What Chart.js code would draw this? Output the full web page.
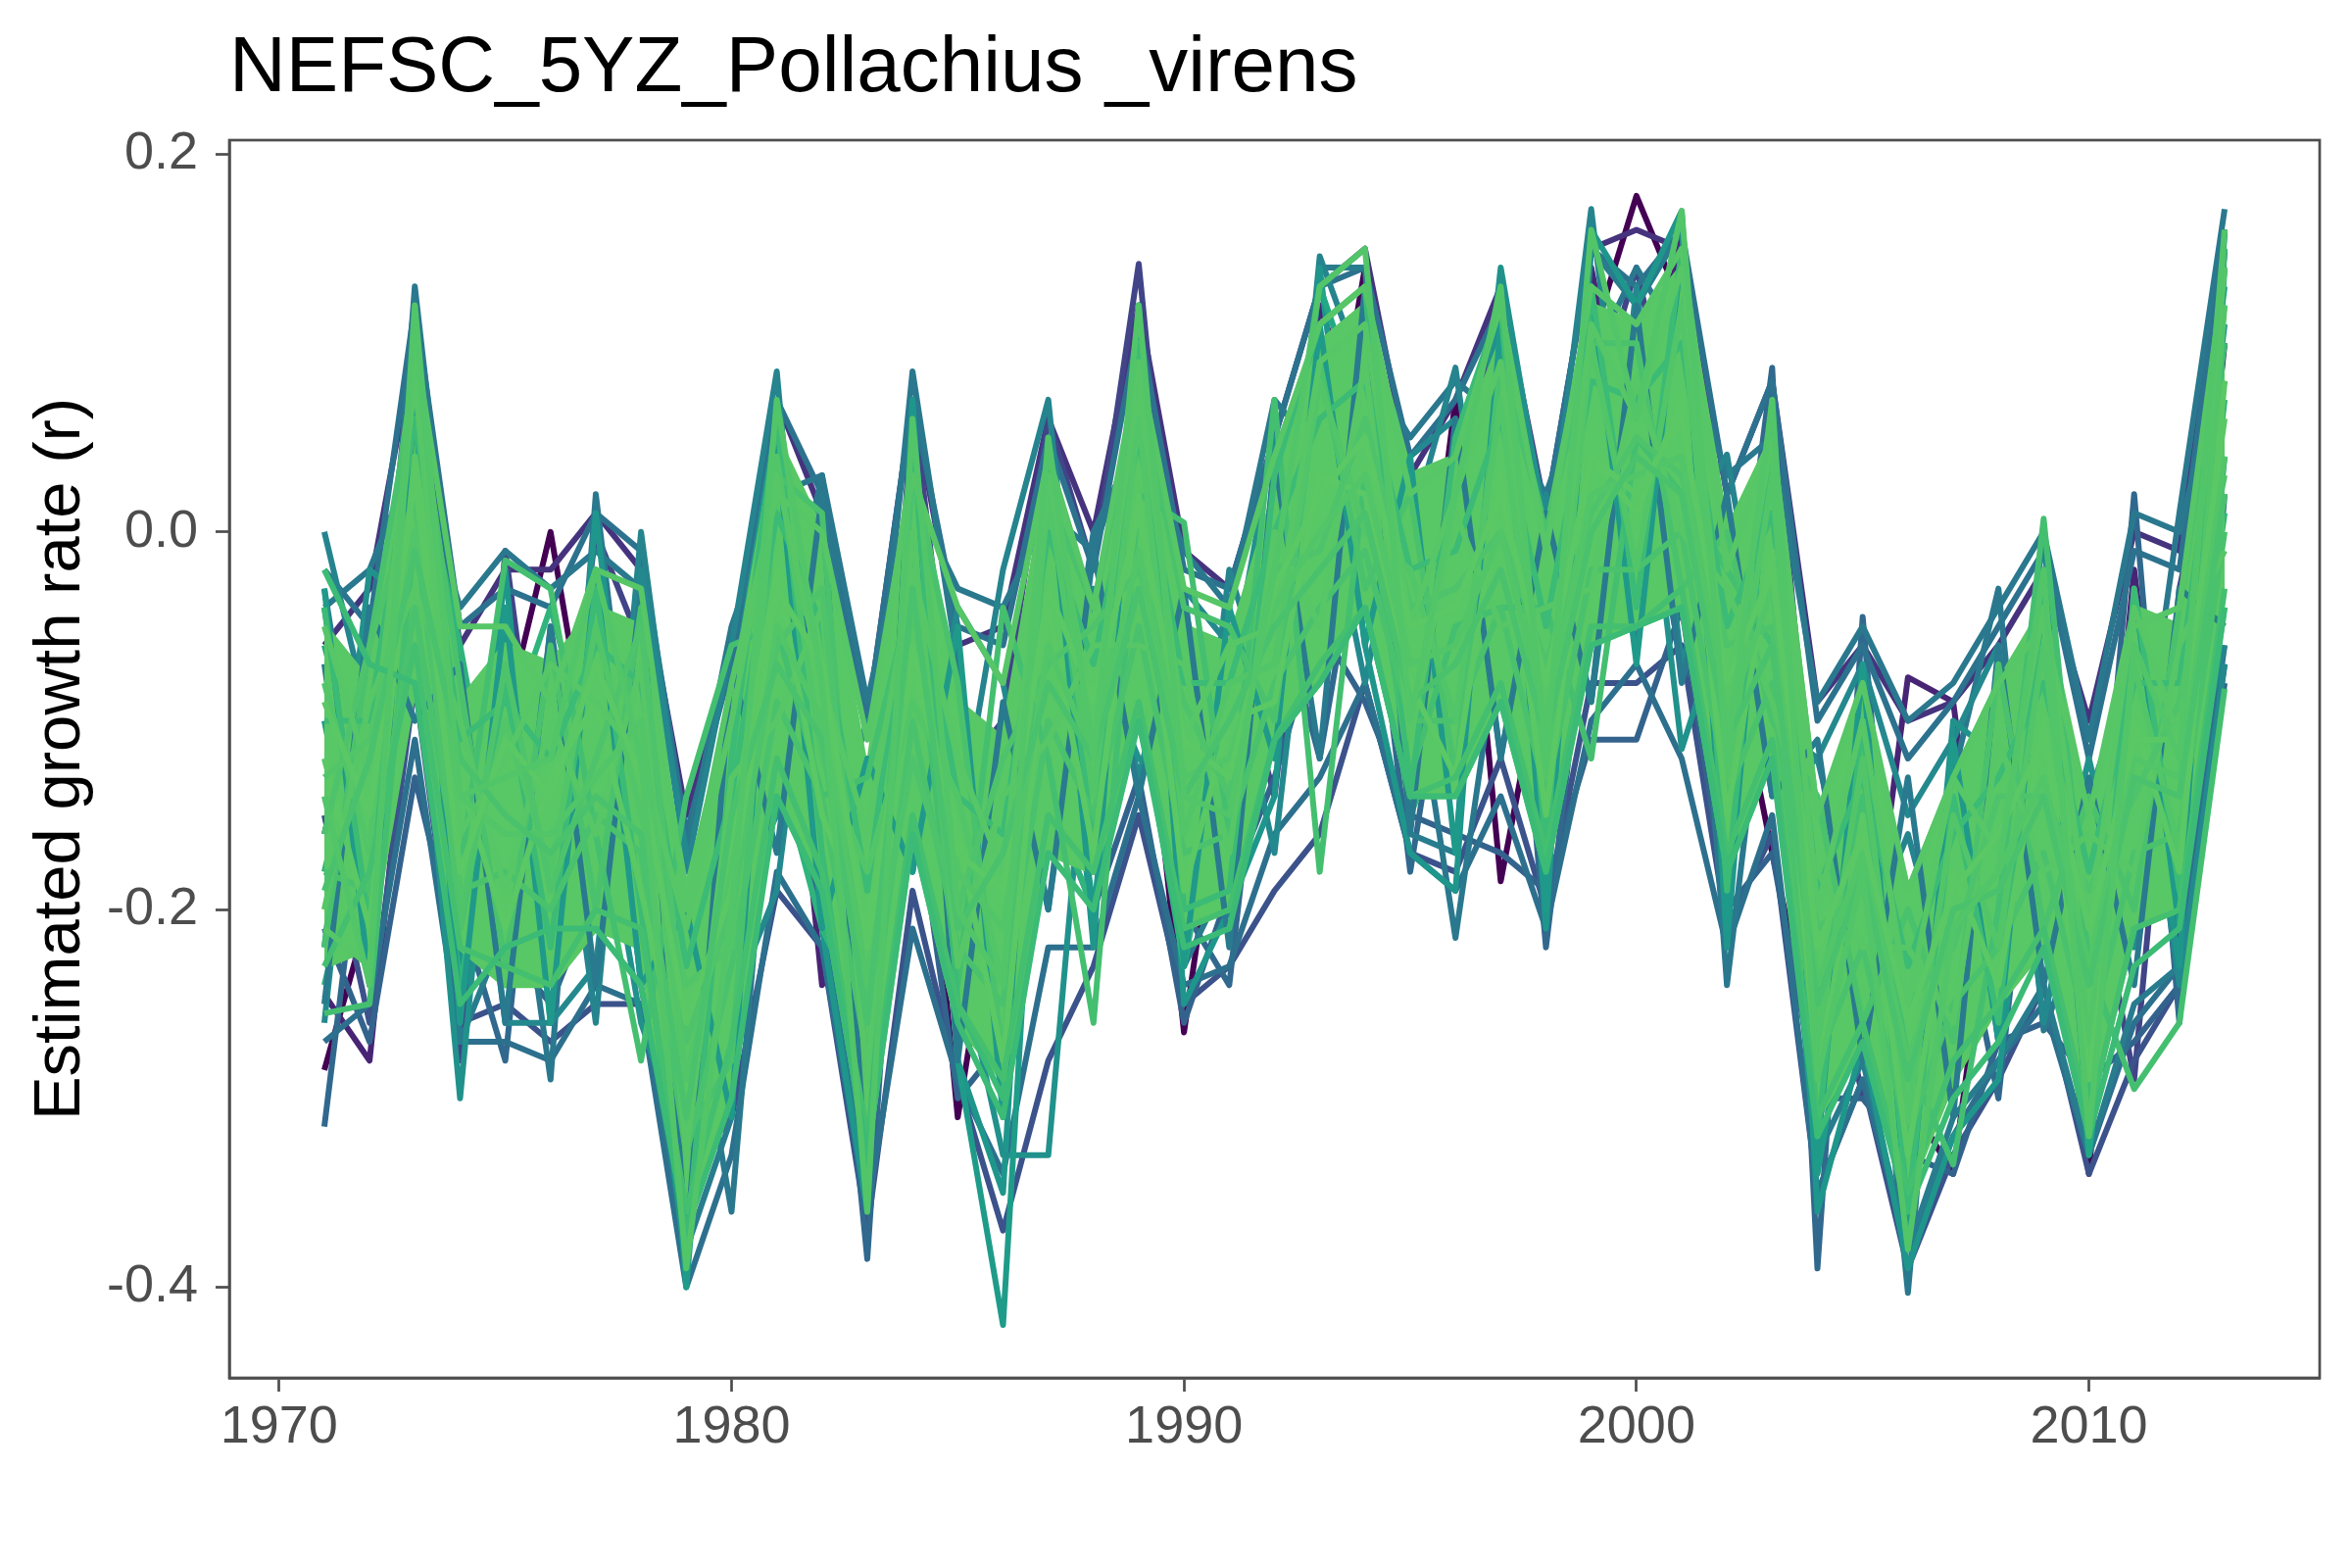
<!DOCTYPE html>
<html>
<head>
<meta charset="utf-8">
<script src="https://cdn.jsdelivr.net/npm/chart.js@4.4.1/dist/chart.umd.min.js"></script>
<style>
  html, body { margin: 0; padding: 0; background: #ffffff; }
  canvas { display: block; }
</style>
</head>
<body>
<canvas id="growthChart" width="2400" height="1600"></canvas>
<script>
// years of the model runs
const years = [1971, 1972, 1973, 1974, 1975, 1976, 1977, 1978, 1979,
  1980, 1981, 1982, 1983, 1984, 1985, 1986, 1987, 1988, 1989,
  1990, 1991, 1992, 1993, 1994, 1995, 1996, 1997, 1998, 1999,
  2000, 2001, 2002, 2003, 2004, 2005, 2006, 2007, 2008, 2009,
  2010, 2011, 2012, 2013];

const xTicks = [1970, 1980, 1990, 2000, 2010];
const yTicks = [-0.4, -0.2, 0.0, 0.2];

// individual runs (1971 ... 2013)
const run01 = [-0.285, -0.20, -0.02, -0.17, -0.10, 0.00, -0.14, -0.10, -0.25,
  -0.26, -0.06, -0.12, -0.34, -0.06, -0.31, -0.16, -0.08, -0.12, -0.04,
  -0.265, -0.10, -0.02, 0.00, 0.14, -0.12, 0.07, -0.185, -0.06, 0.10,
  0.178, 0.12, -0.05, -0.17, -0.28, -0.10, -0.30, -0.34, -0.16, -0.15,
  -0.34, -0.05, -0.13, 0.10];
const run02 = [-0.245, -0.28, -0.05, -0.13, -0.20, -0.12, -0.05, -0.22, -0.32,
  -0.14, 0.00, -0.24, -0.20, 0.02, -0.20, -0.27, -0.02, -0.14, 0.04,
  -0.16, -0.20, -0.06, 0.12, 0.05, -0.02, -0.12, 0.08, -0.12, 0.14,
  0.02, 0.16, -0.13, 0.07, -0.30, -0.26, -0.077, -0.09, -0.27, -0.06,
  -0.27, -0.02, -0.22, 0.15];
const run03 = [-0.06, -0.03, 0.10, -0.06, -0.02, -0.02, 0.01, -0.02, -0.15,
  -0.07, 0.07, 0.01, -0.10, 0.07, -0.06, -0.05, 0.06, 0.00, 0.12,
  -0.01, -0.03, 0.05, 0.13, 0.15, 0.03, 0.07, 0.13, 0.01, 0.15,
  0.16, 0.15, 0.02, 0.08, -0.09, -0.06, -0.10, -0.09, -0.06, -0.02,
  -0.10, 0.00, -0.01, 0.16];
const run04 = [-0.16, -0.06, 0.06, -0.28, -0.01, -0.19, 0.00, -0.06, -0.30,
  -0.22, 0.05, -0.04, -0.30, 0.07, -0.13, -0.10, 0.06, -0.02, 0.142,
  -0.10, -0.05, -0.14, 0.06, 0.12, -0.09, 0.01, 0.12, -0.17, 0.06,
  0.14, 0.03, -0.20, 0.08, -0.18, -0.30, -0.22, -0.30, -0.10, -0.20,
  -0.16, -0.29, -0.03, 0.08];
const run05 = [-0.15, -0.26, -0.08, -0.26, -0.25, -0.27, -0.25, -0.25, -0.34,
  -0.31, -0.19, -0.22, -0.37, -0.19, -0.29, -0.37, -0.28, -0.23, -0.15,
  -0.25, -0.23, -0.19, -0.16, -0.08, -0.17, -0.18, -0.12, -0.20, -0.08,
  -0.08, -0.06, -0.21, -0.16, -0.35, -0.29, -0.39, -0.33, -0.29, -0.24,
  -0.34, -0.28, -0.24, -0.07];
const run06 = [-0.315, -0.12, 0.11, -0.20, -0.28, -0.05, -0.20, -0.15, -0.36,
  -0.10, 0.03, -0.14, -0.385, -0.03, -0.25, -0.16, -0.10, -0.08, -0.06,
  -0.20, -0.24, -0.03, -0.12, 0.02, -0.18, -0.03, 0.05, -0.22, -0.02,
  0.06, -0.07, -0.10, 0.087, -0.39, -0.045, -0.32, -0.18, -0.30, -0.08,
  -0.25, 0.02, -0.26, 0.02];
const run07 = [-0.03, -0.18, 0.13, -0.08, -0.12, -0.29, 0.02, -0.18, -0.22,
  -0.36, -0.08, 0.03, -0.15, 0.085, -0.07, -0.30, -0.16, 0.00, 0.05,
  -0.05, -0.15, 0.03, 0.02, -0.04, -0.06, -0.215, -0.05, -0.10, 0.02,
  -0.06, 0.09, -0.24, -0.04, -0.22, -0.16, -0.403, -0.13, -0.03, -0.264,
  -0.20, -0.16, 0.01, 0.171];
const run08 = [-0.07, -0.24, 0.12, -0.27, -0.21, -0.17, -0.02, -0.24, -0.38,
  -0.31, 0.07, -0.20, -0.34, 0.06, -0.26, -0.22, 0.05, -0.18, 0.11,
  -0.23, -0.18, -0.07, 0.14, 0.14, -0.16, -0.17, 0.13, -0.20, 0.15,
  0.12, 0.16, -0.21, 0.06, -0.33, -0.28, -0.38, -0.31, -0.28, -0.24,
  -0.33, -0.25, -0.23, 0.16];
const run09 = [0.00, -0.10, 0.03, -0.25, -0.16, -0.08, -0.26, 0.00, -0.18,
  -0.06, 0.085, -0.18, -0.10, -0.12, -0.16, -0.02, 0.07, -0.16, 0.10,
  -0.22, -0.02, -0.10, 0.146, 0.08, 0.00, 0.087, -0.08, -0.02, 0.171,
  -0.03, 0.00, 0.041, -0.10, -0.12, -0.22, -0.16, -0.25, -0.20, 0.00,
  -0.30, -0.10, -0.16, -0.06];
const run10 = [-0.26, -0.04, -0.10, -0.07, -0.26, -0.26, -0.23, -0.02, -0.17,
  -0.25, -0.19, 0.00, -0.14, -0.18, -0.04, -0.08, -0.20, -0.03, -0.13,
  -0.03, -0.06, -0.17, 0.04, -0.08, 0.04, 0.06, -0.12, 0.02, -0.09,
  0.13, -0.07, 0.01, -0.14, -0.12, -0.07, -0.15, -0.11, -0.06, -0.26,
  -0.14, -0.07, -0.24, -0.07];
const run11 = [-0.04, -0.20, 0.11, -0.24, -0.02, -0.26, 0.01, -0.20, -0.39,
  -0.09, 0.06, -0.21, -0.36, 0.07, -0.28, -0.35, 0.04, -0.22, 0.12,
  -0.25, -0.20, -0.14, 0.14, -0.06, -0.17, -0.19, 0.13, -0.21, 0.16,
  0.12, 0.17, -0.22, 0.07, -0.36, -0.27, -0.39, -0.32, -0.29, -0.08,
  -0.32, -0.07, -0.23, 0.16];
const run12 = [-0.22, -0.02, -0.04, -0.30, -0.05, -0.20, -0.12, -0.26, -0.33,
  -0.20, -0.15, -0.06, -0.28, -0.08, -0.22, -0.33, -0.33, -0.06, -0.12,
  -0.14, -0.08, 0.05, -0.05, 0.10, -0.15, -0.08, 0.14, 0.00, -0.09,
  0.09, -0.115, -0.04, 0.01, -0.26, -0.12, -0.36, -0.10, -0.12, -0.22,
  -0.12, -0.22, -0.09, 0.11];
const run13 = [-0.10, -0.22, 0.08, -0.12, -0.24, -0.14, -0.07, -0.09, -0.40,
  -0.12, -0.02, -0.20, -0.18, 0.00, -0.28, -0.42, -0.02, -0.20, -0.02,
  -0.08, -0.18, -0.08, 0.09, -0.02, -0.10, 0.03, -0.02, -0.14, 0.08,
  0.00, 0.14, -0.16, -0.08, -0.34, -0.20, -0.30, -0.22, -0.15, -0.10,
  -0.26, -0.06, -0.20, 0.04];
const run14 = [-0.06, -0.15, -0.01, -0.16, -0.09, -0.23, -0.03, -0.14, -0.27,
  -0.28, 0.06, -0.10, -0.32, -0.10, -0.10, -0.22, -0.07, -0.10, 0.07,
  -0.18, -0.11, -0.04, 0.13, 0.06, -0.04, -0.13, 0.09, -0.19, 0.05,
  0.10, 0.04, -0.07, -0.12, -0.20, -0.08, -0.24, -0.16, -0.24, -0.05,
  -0.33, -0.13, -0.06, 0.13];
const run15 = [-0.18, -0.08, 0.05, -0.06, -0.19, -0.10, -0.18, -0.04, -0.24,
  -0.16, -0.11, -0.02, -0.24, 0.04, -0.19, -0.12, 0.00, -0.13, -0.08,
  -0.04, -0.13, 0.01, -0.02, 0.12, -0.08, -0.01, 0.03, -0.07, 0.12,
  -0.01, 0.07, -0.12, 0.04, -0.16, -0.24, -0.20, -0.29, -0.09, -0.16,
  -0.18, -0.09, -0.14, 0.07];
// runs that sit on the edges of the bundle
const edge01 = [-0.02, -0.05, 0.12, -0.05, -0.03, -0.04, 0.01, -0.01, -0.16,
  -0.07, 0.07, 0.02, -0.10, 0.07, -0.05, -0.06, 0.05, -0.02, 0.11,
  -0.02, -0.03, 0.05, 0.13, 0.14, 0.04, 0.07, 0.12, 0.01, 0.15,
  0.13, 0.16, 0.02, 0.08, -0.10, -0.06, -0.12, -0.09, -0.05, -0.01,
  -0.12, -0.01, -0.02, 0.16];
const edge02 = [-0.27, -0.25, -0.11, -0.27, -0.27, -0.28, -0.24, -0.25, -0.40,
  -0.33, -0.18, -0.22, -0.36, -0.21, -0.29, -0.34, -0.22, -0.22, -0.14,
  -0.24, -0.23, -0.16, -0.13, -0.08, -0.17, -0.19, -0.14, -0.21, -0.10,
  -0.07, -0.12, -0.22, -0.15, -0.35, -0.29, -0.38, -0.32, -0.28, -0.25,
  -0.33, -0.26, -0.23, -0.06];
const edge03 = [-0.03, -0.24, 0.07, -0.26, -0.04, -0.26, -0.02, -0.24, -0.20,
  -0.31, 0.05, -0.21, -0.12, -0.18, -0.05, -0.31, 0.04, -0.21, 0.10,
  -0.23, -0.04, -0.12, 0.11, -0.06, 0.04, -0.17, 0.11, -0.20, 0.13,
  -0.07, 0.15, -0.21, 0.07, -0.33, -0.07, -0.37, -0.11, -0.27, -0.03,
  -0.32, -0.03, -0.21, 0.14];
const edge04 = [-0.25, -0.04, -0.10, -0.07, -0.26, -0.05, -0.24, -0.03, -0.38,
  -0.07, -0.17, 0.02, -0.35, 0.06, -0.28, -0.09, -0.20, -0.01, -0.14,
  -0.03, -0.22, 0.04, -0.12, 0.13, -0.16, 0.06, -0.12, 0.01, -0.09,
  0.12, -0.08, 0.02, -0.14, -0.11, -0.28, -0.13, -0.31, -0.06, -0.24,
  -0.13, -0.24, -0.03, -0.05];
const edge05 = [-0.21, -0.27, -0.13, -0.23, -0.22, -0.25, -0.19, -0.21, -0.31,
  -0.30, -0.13, -0.20, -0.33, -0.13, -0.30, -0.27, -0.14, -0.20, -0.13,
  -0.26, -0.19, -0.13, -0.05, -0.09, -0.15, -0.16, -0.17, -0.19, -0.11,
  -0.11, -0.04, -0.20, -0.17, -0.30, -0.30, -0.33, -0.34, -0.27, -0.26,
  -0.29, -0.27, -0.24, -0.08];
const edge06 = [-0.04, -0.02, 0.04, -0.04, -0.01, -0.03, -0.01, -0.03, -0.17,
  -0.05, 0.02, 0.03, -0.09, 0.02, -0.03, -0.04, 0.01, -0.01, 0.06,
  -0.01, -0.04, 0.07, 0.04, 0.09, 0.05, 0.08, 0.06, 0.02, 0.09,
  0.14, 0.10, 0.03, 0.05, -0.09, -0.05, -0.10, -0.08, -0.04, 0.00,
  -0.11, 0.01, 0.00, 0.10];
// upper and lower edge of the solid green core
const coreHigh = [-0.05, -0.08, 0.09, -0.09, -0.06, -0.07, -0.04, -0.05, -0.19,
  -0.09, 0.05, 0.00, -0.13, 0.04, -0.09, -0.11, 0.03, -0.05, 0.09,
  -0.05, -0.06, 0.02, 0.10, 0.12, 0.03, 0.04, 0.10, 0.00, 0.12,
  0.11, 0.14, 0.00, 0.05, -0.15, -0.09, -0.19, -0.13, -0.08, -0.04,
  -0.15, -0.04, -0.05, 0.14];
const coreLow = [-0.23, -0.22, -0.08, -0.22, -0.24, -0.24, -0.21, -0.22, -0.37,
  -0.29, -0.14, -0.19, -0.33, -0.16, -0.26, -0.29, -0.17, -0.18, -0.10,
  -0.21, -0.20, -0.11, -0.08, -0.04, -0.14, -0.14, -0.09, -0.18, -0.06,
  -0.05, -0.04, -0.18, -0.12, -0.31, -0.27, -0.35, -0.29, -0.25, -0.22,
  -0.31, -0.21, -0.20, -0.04];
const run16 = [-0.255, -0.25, 0.00, -0.18, -0.015, -0.03, -0.16, -0.28, -0.14,
  -0.06, -0.05, -0.14, -0.13, -0.03, -0.24, -0.04, -0.12, -0.26, 0.02,
  0.005, -0.16, 0.07, -0.18, 0.03, -0.13, -0.05, -0.04, -0.04, -0.12,
  0.05, 0.02, -0.02, -0.06, -0.25, -0.14, -0.28, -0.335, -0.20, 0.007,
  -0.23, -0.295, -0.26, -0.083];
const run17 = [-0.10, -0.10, 0.06, -0.11, -0.09, -0.12, -0.06, -0.08, -0.23,
  -0.14, 0.01, -0.05, -0.19, -0.01, -0.14, -0.16, 0.00, -0.07, 0.05,
  -0.08, -0.08, 0.00, 0.06, 0.08, -0.02, -0.01, 0.06, -0.05, 0.08,
  0.07, 0.10, -0.05, 0.01, -0.19, -0.13, -0.23, -0.16, -0.13, -0.08,
  -0.18, -0.08, -0.08, 0.10];
const run18 = [-0.18, -0.19, -0.04, -0.19, -0.18, -0.20, -0.15, -0.17, -0.33,
  -0.23, -0.09, -0.14, -0.28, -0.10, -0.22, -0.25, -0.10, -0.15, -0.05,
  -0.17, -0.16, -0.08, -0.04, -0.01, -0.10, -0.10, -0.04, -0.14, -0.02,
  -0.02, 0.00, -0.14, -0.08, -0.28, -0.22, -0.32, -0.25, -0.22, -0.17,
  -0.27, -0.17, -0.16, 0.00];
const run19 = [-0.08, -0.17, 0.09, -0.20, -0.10, -0.18, -0.05, -0.15, -0.24,
  -0.22, 0.04, -0.12, -0.18, -0.09, -0.14, -0.24, 0.02, -0.14, 0.06,
  -0.16, -0.08, -0.07, 0.08, 0.00, -0.02, -0.10, 0.07, -0.13, 0.10,
  -0.02, 0.12, -0.13, 0.03, -0.27, -0.12, -0.31, -0.15, -0.22, -0.06,
  -0.27, -0.07, -0.17, 0.12];
const run20 = [-0.20, -0.09, -0.03, -0.10, -0.19, -0.10, -0.16, -0.07, -0.33,
  -0.13, -0.10, -0.04, -0.29, 0.00, -0.23, -0.14, -0.11, -0.06, -0.06,
  -0.07, -0.17, 0.00, -0.05, 0.09, -0.11, 0.01, -0.05, -0.04, -0.03,
  0.08, 0.00, -0.03, -0.09, -0.18, -0.22, -0.22, -0.26, -0.11, -0.18,
  -0.16, -0.18, -0.06, -0.01];
const run21 = [-0.12, -0.21, 0.04, -0.13, -0.21, -0.13, -0.09, -0.19, -0.30,
  -0.16, -0.02, -0.15, -0.21, -0.07, -0.16, -0.28, -0.04, -0.17, 0.02,
  -0.19, -0.10, -0.09, 0.03, 0.02, -0.08, -0.13, 0.03, -0.15, 0.04,
  0.01, 0.07, -0.15, -0.01, -0.29, -0.15, -0.33, -0.18, -0.24, -0.10,
  -0.29, -0.10, -0.18, 0.08];
const run22 = [-0.16, -0.06, 0.02, -0.21, -0.07, -0.19, -0.12, -0.05, -0.27,
  -0.20, -0.06, -0.03, -0.25, -0.12, -0.20, -0.12, -0.07, -0.05, -0.02,
  -0.09, -0.14, -0.02, -0.01, 0.06, -0.04, -0.03, 0.00, -0.07, 0.01,
  0.05, 0.03, -0.06, -0.05, -0.21, -0.19, -0.25, -0.22, -0.14, -0.14,
  -0.19, -0.14, -0.09, 0.03];
const run23 = [-0.05, -0.13, 0.08, -0.16, -0.12, -0.07, -0.09, -0.12, -0.21,
  -0.10, 0.03, -0.08, -0.16, -0.02, -0.12, -0.18, 0.03, -0.10, 0.08,
  -0.11, -0.06, -0.05, 0.09, 0.11, -0.05, 0.02, 0.09, -0.10, 0.11,
  0.06, 0.14, -0.09, 0.05, -0.20, -0.10, -0.25, -0.13, -0.17, -0.04,
  -0.21, -0.04, -0.11, 0.14];
const run24 = [-0.23, -0.18, -0.06, -0.22, -0.23, -0.24, -0.20, -0.21, -0.36,
  -0.27, -0.12, -0.18, -0.32, -0.15, -0.25, -0.29, -0.15, -0.18, -0.09,
  -0.21, -0.20, -0.11, -0.07, -0.04, -0.14, -0.13, -0.08, -0.17, -0.05,
  -0.05, -0.03, -0.17, -0.11, -0.31, -0.26, -0.35, -0.28, -0.25, -0.21,
  -0.31, -0.21, -0.20, -0.03];
const run25 = [-0.13, -0.11, 0.00, -0.14, -0.16, -0.16, -0.13, -0.10, -0.29,
  -0.18, -0.05, -0.10, -0.24, -0.04, -0.18, -0.21, -0.06, -0.12, -0.01,
  -0.13, -0.12, -0.04, 0.00, 0.03, -0.07, -0.06, 0.00, -0.10, 0.02,
  0.03, 0.04, -0.10, -0.03, -0.24, -0.17, -0.28, -0.21, -0.18, -0.13,
  -0.23, -0.12, -0.13, 0.04];
const run26 = [-0.09, -0.15, 0.03, -0.18, -0.11, -0.14, -0.07, -0.13, -0.26,
  -0.19, -0.03, -0.07, -0.22, -0.06, -0.17, -0.19, -0.03, -0.09, 0.01,
  -0.11, -0.13, -0.03, 0.02, 0.05, -0.05, -0.04, 0.02, -0.08, 0.04,
  0.02, 0.06, -0.08, -0.02, -0.22, -0.16, -0.26, -0.19, -0.16, -0.11,
  -0.21, -0.11, -0.11, 0.06];
const run27 = [-0.19, -0.12, -0.01, -0.12, -0.15, -0.17, -0.14, -0.16, -0.31,
  -0.15, -0.07, -0.11, -0.26, -0.03, -0.21, -0.17, -0.08, -0.12, -0.03,
  -0.14, -0.10, -0.05, -0.02, 0.01, -0.09, -0.07, -0.02, -0.11, 0.00,
  0.04, 0.02, -0.11, -0.06, -0.25, -0.18, -0.29, -0.20, -0.19, -0.14,
  -0.24, -0.13, -0.14, 0.02];
const run28 = [-0.21, -0.23, 0.10, -0.05, -0.05, -0.09, -0.02, -0.03, -0.20,
  -0.08, 0.02, 0.00, -0.11, 0.03, -0.04, -0.08, 0.04, -0.04, 0.09,
  -0.03, -0.04, 0.04, 0.11, 0.13, 0.02, 0.04, 0.12, -0.01, 0.13,
  0.11, 0.15, -0.02, 0.05, -0.15, -0.08, -0.19, -0.13, -0.08, -0.05,
  -0.15, -0.05, -0.04, 0.14];
const run29 = [-0.02, -0.07, -0.08, -0.25, -0.22, -0.21, -0.21, -0.24, -0.37,
  -0.30, -0.14, -0.19, -0.33, -0.16, -0.26, -0.31, -0.17, -0.20, -0.10,
  -0.22, -0.21, -0.11, -0.08, -0.04, -0.14, -0.14, -0.09, -0.18, -0.06,
  -0.05, -0.04, -0.18, -0.12, -0.32, -0.27, -0.36, -0.30, -0.27, -0.22,
  -0.32, -0.23, -0.21, -0.04];
const run30 = [-0.04, -0.21, 0.11, -0.21, -0.08, -0.22, -0.03, -0.20, -0.38,
  -0.12, 0.06, -0.17, -0.34, 0.05, -0.25, -0.30, 0.04, -0.17, 0.10,
  -0.20, -0.19, 0.03, 0.11, 0.13, -0.14, 0.05, 0.12, -0.17, 0.13,
  -0.04, 0.15, -0.19, 0.06, -0.32, -0.10, -0.36, -0.14, -0.26, -0.03,
  -0.31, -0.03, -0.19, 0.15];
const run31 = [-0.22, -0.06, 0.08, -0.08, -0.23, -0.06, -0.20, -0.04, -0.32,
  -0.28, 0.03, 0.01, -0.29, 0.03, -0.08, -0.28, 0.02, -0.04, 0.08,
  -0.04, -0.05, -0.10, 0.09, -0.03, 0.02, -0.13, 0.09, 0.00, 0.10,
  0.10, -0.03, 0.00, -0.10, -0.14, -0.26, -0.20, -0.27, -0.07, -0.21,
  -0.14, -0.20, -0.04, 0.12];
const run32 = [-0.14, -0.24, 0.12, -0.14, -0.13, -0.12, -0.02, -0.12, -0.39,
  -0.20, 0.07, -0.08, -0.36, 0.06, -0.20, -0.24, 0.05, -0.12, 0.12,
  -0.14, -0.15, -0.02, 0.13, 0.15, -0.10, 0.02, 0.13, -0.12, 0.16,
  0.06, 0.17, -0.12, 0.07, -0.29, -0.18, -0.38, -0.21, -0.18, -0.02,
  -0.32, -0.06, -0.12, 0.16];
const run33 = [-0.24, -0.14, -0.05, -0.24, -0.11, -0.04, -0.13, -0.23, -0.30,
  -0.09, -0.12, -0.21, -0.26, -0.14, -0.12, -0.18, -0.14, -0.20, -0.09,
  -0.23, -0.10, -0.07, -0.06, 0.01, -0.15, -0.09, -0.07, -0.15, -0.05,
  -0.02, -0.01, -0.17, -0.11, -0.27, -0.21, -0.31, -0.24, -0.21, -0.19,
  -0.29, -0.21, -0.16, 0.01];

const FONT = '"Liberation Sans", Arial, sans-serif';
const AXIS_GREY = '#4D4D4D';
const CORE_GREEN = '#58C765';
const LINE_WIDTH = 6;

function toPoints(values) {
  return values.map((v, i) => ({ x: years[i], y: v }));
}

function runLine(values, colour) {
  return {
    data: toPoints(values),
    borderColor: colour,
    borderWidth: LINE_WIDTH,
    borderJoinStyle: 'round',
    pointRadius: 0,
    fill: false,
    tension: 0
  };
}

// bottom of the stack first (viridis dark -> green)
const stack = [
  runLine(run01, '#440154'),
  runLine(run02, '#482475'),
  runLine(run03, '#46337E'),
  runLine(run04, '#414487'),
  runLine(run05, '#3B528B'),
  runLine(edge05, '#33638D'),
  runLine(run06, '#31688E'),
  runLine(edge02, '#2D708E'),
  runLine(edge01, '#2C728E'),
  runLine(run07, '#2A788E'),
  runLine(edge06, '#2A788E'),
  runLine(run08, '#287C8E'),
  runLine(run09, '#25848E'),
  runLine(run10, '#23898E'),
  runLine(run11, '#1F968B'),
  runLine(run12, '#21918C'),
  runLine(run13, '#1E9C89'),
  runLine(run14, '#22A884'),
  runLine(run15, '#2FB47C'),
  runLine(run33, '#2FB47C'),
  { data: toPoints(coreLow), borderColor: CORE_GREEN, borderWidth: LINE_WIDTH, borderJoinStyle: 'round', pointRadius: 0, fill: false, tension: 0 },
  { data: toPoints(coreHigh), borderColor: CORE_GREEN, borderWidth: LINE_WIDTH, borderJoinStyle: 'round', pointRadius: 0, fill: '+1', backgroundColor: CORE_GREEN, tension: 0 },
  runLine(edge04, '#297A8E'),
  runLine(edge03, '#1F9A8A'),
  runLine(run16, '#44BF70'),
  runLine(run30, '#3BBB75'),
  runLine(run31, '#4AC16D'),
  runLine(run17, '#3BBB75'),
  runLine(run18, '#4AC16D'),
  runLine(run19, '#52C569'),
  runLine(run20, '#56C667'),
  runLine(run21, '#5AC864'),
  runLine(run22, '#4EC36B'),
  runLine(run23, '#56C667'),
  runLine(run24, '#44BF70'),
  runLine(run25, '#52C569'),
  runLine(run26, '#5AC864'),
  runLine(run27, '#4AC16D'),
  runLine(run28, '#56C667'),
  runLine(run29, '#3BBB75'),
  runLine(run32, '#52C569')
];

const panelBox = {
  id: 'panelBox',
  afterDatasetsDraw(chart) {
    const { ctx, chartArea: a } = chart;
    ctx.save();
    ctx.strokeStyle = AXIS_GREY;
    ctx.lineWidth = 2.7;
    ctx.strokeRect(a.left, a.top, a.right - a.left, a.bottom - a.top);
    ctx.restore();
  }
};

const plotTitle = {
  id: 'plotTitle',
  afterDraw(chart) {
    const { ctx, chartArea: a } = chart;
    ctx.save();
    ctx.fillStyle = '#000000';
    ctx.font = '80px ' + FONT;
    ctx.textBaseline = 'alphabetic';
    ctx.textAlign = 'left';
    ctx.fillText('NEFSC_5YZ_Pollachius _virens', a.left, 93);
    ctx.restore();
  }
};

new Chart(document.getElementById('growthChart'), {
  type: 'line',
  // Chart.js paints the first dataset last, so hand it the stack top-first
  data: { datasets: stack.slice().reverse() },
  options: {
    responsive: false,
    animation: false,
    devicePixelRatio: 1,
    layout: { padding: { top: 143, right: 33, bottom: 0, left: 0 } },
    plugins: {
      legend: { display: false },
      tooltip: { enabled: false }
    },
    scales: {
      x: {
        type: 'linear',
        min: 1968.9,
        max: 2015.1,
        afterBuildTicks: (scale) => { scale.ticks = xTicks.map(v => ({ value: v })); },
        afterFit: (scale) => { scale.height = 194; },
        grid: { drawOnChartArea: false, drawTicks: true, tickLength: 14, tickWidth: 2.7, tickColor: AXIS_GREY },
        border: { display: true, color: AXIS_GREY, width: 2.7 },
        ticks: {
          color: AXIS_GREY,
          font: { family: FONT, size: 54 },
          padding: 5,
          maxRotation: 0,
          autoSkip: false,
          callback: (v) => String(v)
        }
      },
      y: {
        type: 'linear',
        min: -0.448,
        max: 0.2075,
        afterBuildTicks: (scale) => { scale.ticks = yTicks.map(v => ({ value: v })); },
        afterFit: (scale) => { scale.width = 234; },
        grid: { drawOnChartArea: false, drawTicks: true, tickLength: 14, tickWidth: 2.7, tickColor: AXIS_GREY },
        border: { display: true, color: AXIS_GREY, width: 2.7 },
        ticks: {
          color: AXIS_GREY,
          font: { family: FONT, size: 54 },
          padding: 18,
          callback: (v) => Number(v).toFixed(1)
        },
        title: {
          display: true,
          text: 'Estimated growth rate (r)',
          color: '#000000',
          font: { family: FONT, size: 67 },
          padding: { top: 22, bottom: 0 }
        }
      }
    }
  },
  plugins: [panelBox, plotTitle]
});
</script>
</body>
</html>
